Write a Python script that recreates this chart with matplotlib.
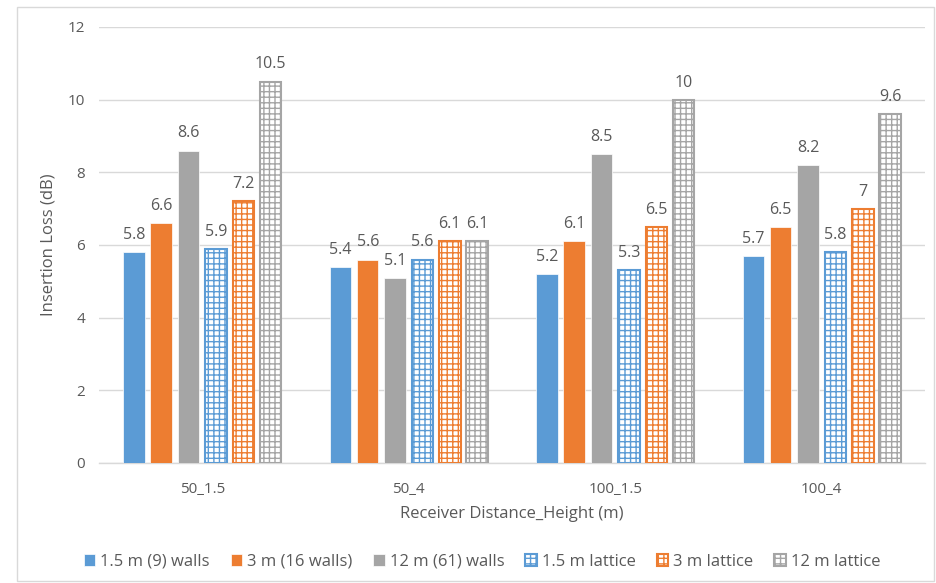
import matplotlib
matplotlib.use("Agg")
import matplotlib.pyplot as plt
import numpy as np
from matplotlib.patches import Rectangle

plt.rcParams['font.family'] = ['Open Sans', 'DejaVu Sans']
plt.rcParams['hatch.linewidth'] = 1.0

categories = ["50_1.5", "50_4", "100_1.5", "100_4"]
series_names = ["1.5 m (9) walls", "3 m (16 walls)", "12 m (61) walls",
                "1.5 m lattice", "3 m lattice", "12 m lattice"]
walls_1_5 = [5.8, 5.4, 5.2, 5.7]
walls_3 = [6.6, 5.6, 6.1, 6.5]
walls_12 = [8.6, 5.1, 8.5, 8.2]
lattice_1_5 = [5.9, 5.6, 5.3, 5.8]
lattice_3 = [7.2, 6.1, 6.5, 7.0]
lattice_12 = [10.5, 6.1, 10.0, 9.6]
series = [walls_1_5, walls_3, walls_12, lattice_1_5, lattice_3, lattice_12]
value_labels = [["5.8", "5.4", "5.2", "5.7"], ["6.6", "5.6", "6.1", "6.5"],
                ["8.6", "5.1", "8.5", "8.2"], ["5.9", "5.6", "5.3", "5.8"],
                ["7.2", "6.1", "6.5", "7"], ["10.5", "6.1", "10", "9.6"]]

colors = ["#5B9BD5", "#ED7D31", "#A5A5A5", "#5B9BD5", "#ED7D31", "#A5A5A5"]
hatched = [False, False, False, True, True, True]
text_color = "#595959"

fig = plt.figure(figsize=(9.36, 5.83), dpi=100)
ax = fig.add_axes([99/936, 1-463/583, 826/936, 436/583])

x = np.arange(len(categories))
step = 0.1325
width = 0.104
for i, (vals, name) in enumerate(zip(series, series_names)):
    pos = x + (i - 2.5) * step
    if hatched[i]:
        ax.bar(pos, vals, width, color="white", edgecolor=colors[i],
               hatch="+++", linewidth=1.5, label=name, zorder=3)
    else:
        ax.bar(pos, vals, width, color=colors[i], edgecolor="white",
               linewidth=0.5, label=name, zorder=3)
    for p, v, lab in zip(pos, vals, value_labels[i]):
        ax.text(p, v + 0.25, lab, ha="center", va="bottom", fontsize=11.5,
                color=text_color, zorder=4)

ax.set_xlim(-0.5, 3.5)
ax.set_ylim(0, 12)
ax.set_yticks(np.arange(0, 13, 2))
ax.set_xticks(x)
ax.set_xticklabels(categories)
ax.yaxis.grid(True, color="#D9D9D9", linewidth=1)
ax.set_axisbelow(True)
for s in ["top", "right", "left"]:
    ax.spines[s].set_visible(False)
ax.spines["bottom"].set_color("#D9D9D9")
ax.spines["bottom"].set_linewidth(1)
ax.tick_params(axis="both", length=0, labelsize=11, colors=text_color, pad=10)
ax.tick_params(axis="x", pad=14)
ax.set_ylabel("Insertion Loss (dB)", fontsize=12, color=text_color, labelpad=8)
ax.set_xlabel("Receiver Distance_Height (m)", fontsize=12, color=text_color, labelpad=6)

fig.legend(loc="center", bbox_to_anchor=(0.515, 1-562/583), ncol=6,
           frameon=False, fontsize=12, handlelength=0.7, handleheight=0.7,
           columnspacing=1.25, handletextpad=0.3, labelcolor=text_color)

fig.patches.append(Rectangle((17/936, 0.003), 1-17/936-0.002, 1-7/583-0.003,
                             transform=fig.transFigure, fill=False,
                             edgecolor="#D9D9D9", linewidth=1))

fig.savefig("out.png", dpi=100)
